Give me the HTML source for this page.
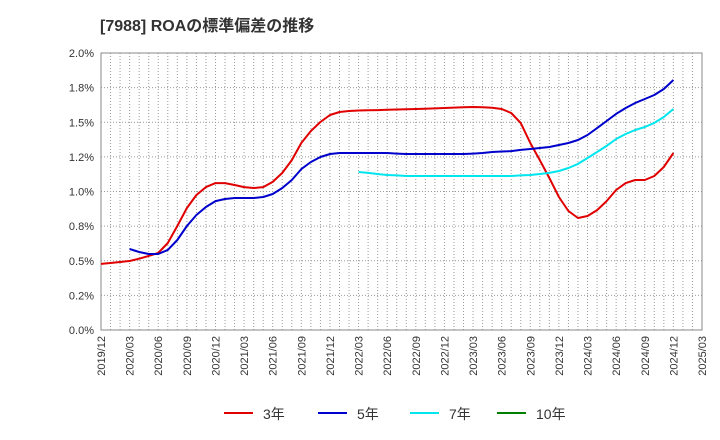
<!DOCTYPE html>
<html><head><meta charset="utf-8">
<style>
html,body{margin:0;padding:0;background:#fff;}
svg{display:block;font-family:"Liberation Sans","Noto Sans CJK JP",sans-serif;}
</style></head>
<body>
<svg id="chart" width="720" height="440" viewBox="0 0 720 440">
<text x="100" y="31" font-size="16" font-weight="bold" fill="#333">[7988]  ROAの標準偏差の推移</text>
<g id="grid"></g>
<g id="axes"></g>
<g id="series"></g>
<g id="legend"></g>
</svg>
<script>
const yTicks=[0,0.25,0.5,0.75,1.0,1.25,1.5,1.75,2.0];
const yTickLabels=["0.0%","0.2%","0.5%","0.8%","1.0%","1.2%","1.5%","1.8%","2.0%"];
const xTickLabels=["2019/12","2020/03","2020/06","2020/09","2020/12","2021/03","2021/06","2021/09","2021/12","2022/03","2022/06","2022/09","2022/12","2023/03","2023/06","2023/09","2023/12","2024/03","2024/06","2024/09","2024/12","2025/03"];
const seriesNames=["3年","5年","7年","10年"];
const seriesColors=["#e00000","#0000cc","#00e5ee","#008000"];
const seriesStart=[0,3,27,0];
const s3=[0.477,0.484,0.491,0.498,0.515,0.535,0.556,0.628,0.751,0.881,0.975,1.032,1.061,1.061,1.047,1.032,1.025,1.032,1.069,1.134,1.227,1.350,1.437,1.502,1.552,1.574,1.581,1.585,1.586,1.588,1.590,1.592,1.594,1.596,1.598,1.600,1.603,1.606,1.608,1.610,1.608,1.605,1.596,1.567,1.495,1.350,1.227,1.097,0.960,0.859,0.809,0.823,0.866,0.931,1.011,1.061,1.083,1.083,1.112,1.177,1.278];
const s5=[0.585,0.563,0.549,0.549,0.578,0.650,0.751,0.830,0.888,0.931,
0.946,0.953,0.953,0.953,0.960,0.982,1.025,1.083,1.162,1.213,1.249,1.271,
1.278,1.278,1.278,1.278,1.278,1.278,1.274,1.271,1.271,1.271,1.271,1.271,
1.271,1.271,1.274,1.278,1.285,1.289,1.292,1.300,1.307,1.314,1.321,1.336,
1.350,1.372,1.408,1.458,1.509,1.560,1.603,1.639,1.668,1.697,1.740,1.805];
const s7=[1.141,1.134,1.126,1.119,1.116,1.112,1.112,1.112,1.112,1.112,1.112,1.112,1.112,1.112,1.112,1.112,1.112,1.116,1.119,1.126,1.134,1.148,1.170,1.199,1.242,1.285,1.329,1.379,1.415,1.444,1.466,1.495,1.538,1.596];
const s10=[];
const allSeries=[s3,s5,s7,s10];

const L=101,R=702,T=53,B=330,NM=63;
const NS="http://www.w3.org/2000/svg";
const xs=m=>L+(R-L)*m/NM;
const ys=v=>B-(B-T)*v/2.0;
function mk(tag,attrs,parent){const e=document.createElementNS(NS,tag);for(const k in attrs)e.setAttribute(k,attrs[k]);parent.appendChild(e);return e;}
const grid=document.getElementById('grid'),axes=document.getElementById('axes'),ser=document.getElementById('series'),leg=document.getElementById('legend');
for(let m=1;m<NM;m++){const l=mk('line',{x1:xs(m),x2:xs(m),y1:T,y2:B,stroke:'#999','stroke-width':1,'stroke-dasharray':'1,2'},grid);

}
yTicks.forEach((v,i)=>{if(i>0&&i<yTicks.length-1){const l=mk('line',{x1:L,x2:R,y1:ys(v),y2:ys(v),stroke:'#999','stroke-width':1,'stroke-dasharray':'1,2'},grid);

}
const t=mk('text',{x:L-7,y:ys(v)+4,'text-anchor':'end','font-size':11,fill:'#333'},axes);t.textContent=yTickLabels[i];

});
const fr=mk('rect',{x:L,y:T,width:R-L,height:B-T,fill:'none',stroke:'#888','stroke-width':1},axes);


xTickLabels.forEach((s,i)=>{const x=xs(i*3);const t=mk('text',{x:0,y:0,transform:`translate(${x+4},${B+6}) rotate(-90)`,'text-anchor':'end','font-size':11,fill:'#333'},axes);t.textContent=s;

});
allSeries.forEach((arr,si)=>{if(!arr.length)return;const pts=arr.map((v,i)=>xs(seriesStart[si]+i).toFixed(1)+','+ys(v).toFixed(1)).join(' ');
const p=mk('polyline',{points:pts,fill:'none',stroke:seriesColors[si],'stroke-width':2,'stroke-linejoin':'round'},ser);

});
const legX=[224,318,410,497];
seriesNames.forEach((n,i)=>{const g=mk('g',{},leg);


mk('line',{x1:legX[i],x2:legX[i]+29,y1:413,y2:413,stroke:seriesColors[i],'stroke-width':2},g);
const t=mk('text',{x:legX[i]+39,y:419,'font-size':14,fill:'#333'},g);t.textContent=n;});
</script>
</body></html>
